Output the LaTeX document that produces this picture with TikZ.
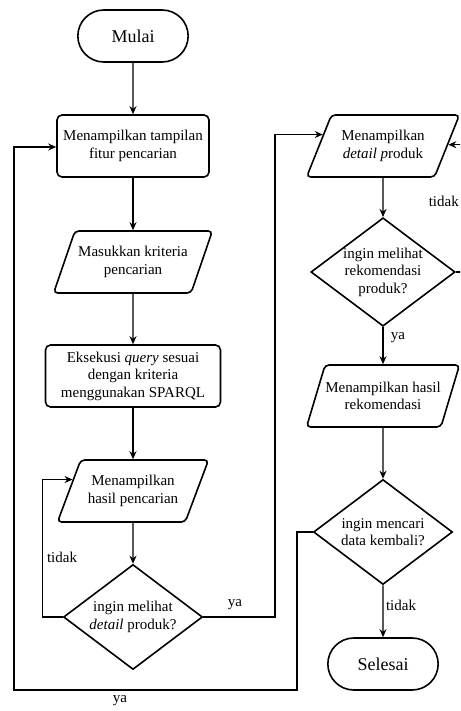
\documentclass[tikz,border=0pt]{standalone}
\usepackage{fontspec}
\setmainfont{Liberation Serif}
\usetikzlibrary{arrows.meta,calc,shapes.geometric,shapes.misc}

\begin{document}
\begin{tikzpicture}[x=1pt,y=-1pt,
  term/.style={draw,line width=1.6pt,rounded rectangle,minimum width=117pt,minimum height=52pt,font=\fontsize{18}{20}\selectfont},
  proc/.style={draw,line width=1.6pt,rounded corners=5pt,align=center,minimum height=62pt,font=\fontsize{15}{17.5}\selectfont},
  io/.style={draw,line width=1.6pt,rounded corners=4pt,trapezium,trapezium left angle=62,trapezium right angle=118,trapezium stretches=true,align=center,minimum height=62pt,inner xsep=0pt,font=\fontsize{15}{17.5}\selectfont},
  decide/.style={draw,line width=1.6pt,diamond,aspect=1.33,inner sep=0pt,align=center,minimum width=139pt,minimum height=105pt,font=\fontsize{15}{17.5}\selectfont},
  conn/.style={line width=1.1pt,-{Stealth[length=8pt,width=7pt]}},
  lbl/.style={font=\fontsize{15}{17.5}\selectfont}]

% Frame of the picture
\useasboundingbox (0,0) rectangle (460,711);
\clip (0,0) rectangle (460,711);

% Left column
\node[term] (mulai) at (133,36) {Mulai};
\node[proc,minimum width=152pt] (tampil) at (133,146) {Menampilkan tampilan\\fitur pencarian};
\node[io,minimum width=159pt] (masuk) at (133,262) {Masukkan kriteria\\pencarian};
\node[proc,minimum width=175pt] (eksekusi) at (133,376) {Eksekusi \textit{query} sesuai\\dengan kriteria\\menggunakan SPARQL};
\node[io,minimum width=151pt] (hasil) at (133,491) {Menampilkan\\hasil pencarian};
\node[decide] (cekdetail) at (133,617) {ingin melihat\\\textit{detail} produk?};

% Right column
\node[io,minimum width=153pt] (detail) at (383,146) {Menampilkan\\\textit{detail p}roduk};
\node[decide,minimum width=140pt,minimum height=103pt] (cekrekom) at (383,272) {ingin melihat\\rekomendasi\\produk?};
\node[io,minimum width=153pt] (rekom) at (383,396) {Menampilkan hasil\\rekomendasi};
\node[decide] (cekulang) at (383,532) {ingin mencari\\data kembali?};
\node[term] (selesai) at (383,664) {Selesai};

% Entry points on the slanted sides
\coordinate (hasilin) at ($(hasil.top left corner)!0.32!(hasil.bottom left corner)$);
\coordinate (detailin) at ($(detail.top left corner)!0.32!(detail.bottom left corner)$);
\coordinate (detailback) at ($(detail.top right corner)!0.48!(detail.bottom right corner)$);
\coordinate (tampilin) at ($(tampil.west)+(0,1)$);

% Main flow
\draw[conn] (mulai) -- (tampil);
\draw[conn] (tampil) -- (masuk);
\draw[conn] (masuk) -- (eksekusi);
\draw[conn] (eksekusi) -- (hasil);
\draw[conn] (hasil) -- (cekdetail);
\draw[conn] (detail) -- (cekrekom);
\draw[conn] (cekrekom) -- (rekom);
\draw[conn] (rekom) -- (cekulang);
\draw[conn] (cekulang) -- (selesai);

% Branches
\draw[conn] (cekdetail.west) -- ++(-20,0) |- (hasilin);
\draw[conn] (cekdetail.east) -- (275,617) |- (detailin);
\draw[conn] (cekrekom.east) -- (470,272) |- (detailback);
\draw[conn] (cekulang.west) -- (297,532) -- (297,690) -- (14,690) |- (tampilin);

% Labels
\node[lbl] (tidak1) at (62,557) {tidak};
\node[lbl] (ya1) at (235,605) {ya};
\node[lbl,anchor=east,inner xsep=1pt] (tidak2) at (460,201) {tidak};
\node[lbl] (ya2) at (398,338) {ya};
\node[lbl] (tidak3) at (401,605) {tidak};
\node[lbl] (ya3) at (120,701) {ya};

\end{tikzpicture}
\end{document}
